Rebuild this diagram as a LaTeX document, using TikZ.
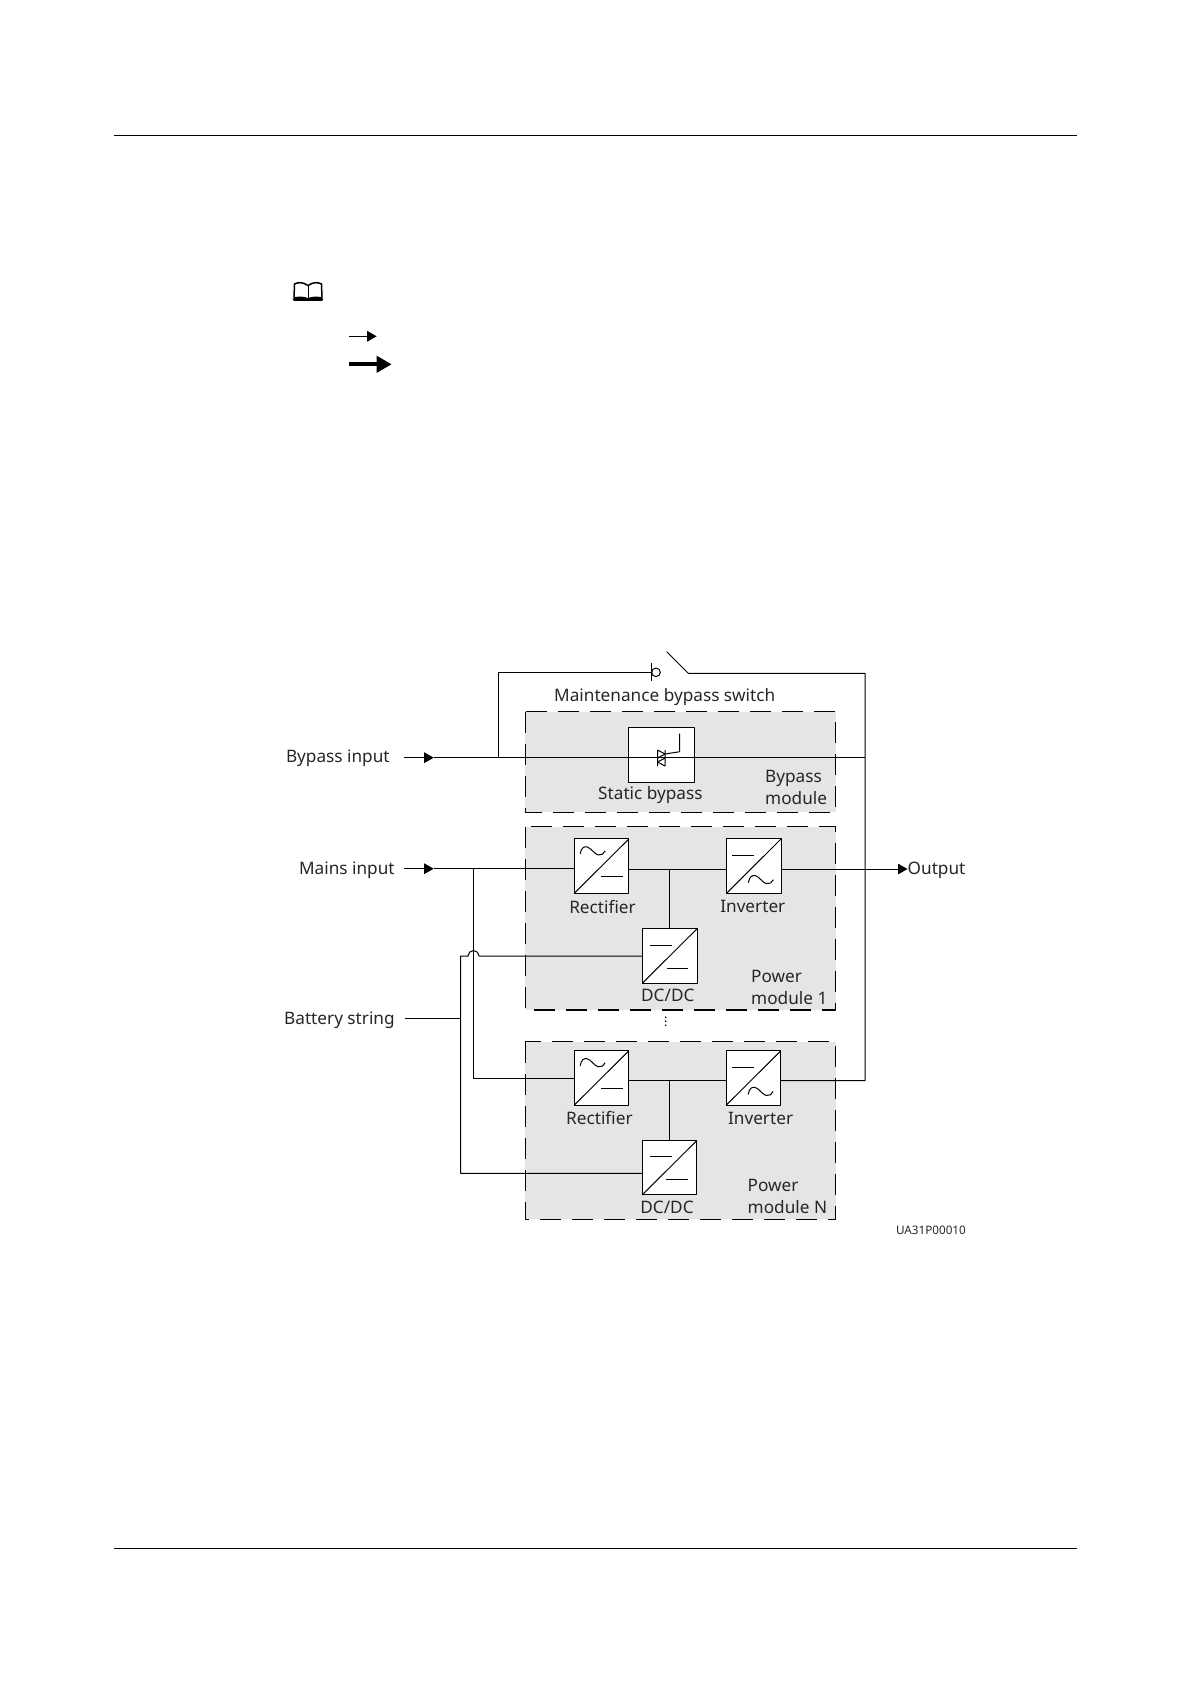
\documentclass[tikz,border=0pt]{standalone}
\usepackage{fontspec}
\setmainfont{Noto Sans}
\usetikzlibrary{arrows.meta}
\tikzset{
	module/.style={fill=black!10, draw, line width=1.1pt, dash pattern=on 21pt off 11pt},
	conv/.style={draw, fill=white, line width=1pt, inner sep=0pt, outer sep=0pt, minimum width=54.7pt, minimum height=54.5pt},
	lbl/.style={inner sep=0pt, text=black!85, align=left, font=\fontsize{17.2}{22.7}\selectfont},
	wire/.style={line width=1pt},
}
\begin{document}
\begin{tikzpicture}[x=1pt, y=-1pt, line join=round, >={Triangle[length=9.5pt,width=10.5pt]}]
	\useasboundingbox (0,0) rectangle (1191,1684);
	\path
	(113.8,135.3) coordinate (ruleTopL)
	(1077,135.3) coordinate (ruleTopR)
	(113.8,1548) coordinate (ruleBotL)
	(1077,1548) coordinate (ruleBotR)
	(349.3,336.3) coordinate (noteThin)
	(376.7,336.3) coordinate (noteThinTip)
	(349.3,364.3) coordinate (noteThick)
	(391.7,364.3) coordinate (noteThickTip)
	(403.6,757.7) coordinate (bypassIn)
	(433.7,757.7) coordinate (bypassTip)
	(498.5,757.7) coordinate (bypassTap)
	(865,757.7) coordinate (bypassEnd)
	(498.5,672.3) coordinate (swLeft)
	(651.7,672.3) coordinate (swTick)
	(651.7,662.7) coordinate (swTickT)
	(651.7,680.7) coordinate (swTickB)
	(666.7,651.7) coordinate (swBlade)
	(688.3,673.3) coordinate (swHinge)
	(865,673.3) coordinate (swRight)
	(403.6,868.7) coordinate (mainsIn)
	(433.7,868.7) coordinate (mainsTip)
	(473.5,868.7) coordinate (mainsTap)
	(473.5,1078) coordinate (mainsLow)
	(460.6,1018.3) coordinate (batTap)
	(404.8,1018.3) coordinate (batIn)
	(460.6,956) coordinate (batTop)
	(460.6,1173.3) coordinate (batLow)
	(907.5,869) coordinate (outTip)
	(865,1080.7) coordinate (outLow);

	\draw[line width=1pt] (ruleTopL)--(ruleTopR) (ruleBotL)--(ruleBotR);

	% note icon and legend arrows
	\draw[line width=1.5pt] (308,285.5) .. controls (303,282) and (298,282) .. (294.5,284)--(294,298) .. controls (300,297) and (304,297) .. (308,299) .. controls (312,297) and (316,297) .. (322,298)--(321.5,284) .. controls (318,282) and (313,282) .. (308,285.5);
	\draw[line width=.8pt] (308,285.5)--(308,299);
	\draw[line width=2.6pt, line cap=round] (294,299.5)--(322,299.5);
	\draw[->, line width=1.2pt] (noteThin)--(noteThinTip);
	\draw[-{Triangle[length=15pt,width=16pt]}, line width=4pt] (noteThick)--(noteThickTip);

	% modules
	\path[module] (525.2,711.7) rectangle (835.5,812.3);
	\path[module] (525.2,826.7) rectangle (835.5,1010);
	\path[module] (525.2,1041.7) rectangle (835.5,1219.3);

	\node[conv, minimum width=66.1pt] (staticBox) at (661.2,755) {};
	\foreach \n/\x/\y in {recA/601.5/866.2,invA/753.7/866.2,dcA/669.7/956,recN/601.5/1078,invN/753.5/1078,dcN/669.5/1167.7}
	\node[conv] (\n) at (\x,\y) {};

	\foreach \n in {recA,invA,dcA,recN,invN,dcN}
	\draw[wire] (\n.south west)--(\n.north east);
	\foreach \n/\a/\b/\y in {recA/27.3/49.3/38,recN/27.3/49.3/38,invA/5.7/27.5/16.3,invN/5.7/27.5/16.3,dcA/7.7/30/16.3,dcA/24.3/46/39.3,dcN/7.7/30/16.3,dcN/24.3/46/39.3}
	\draw[wire, shift={(\n.north west)}] (\a,\y)--(\b,\y);
	\foreach \n/\a/\b in {recA/6/15,recN/6/15,invA/22/43.7,invN/22/43.7}
	\draw[wire, shift={(\n.north west)}, shift={(\a,\b)}] (0,0) .. controls (1,-6) and (4,-8) .. (7,-7) .. controls (11,-6) and (14,0) .. (18,1) .. controls (21,1.5) and (24,0) .. (25,-3);

	% thyristor in the static bypass
	\draw[line width=1pt] (657.7,750)--(657.7,766) (665,750)--(665,766)
	(657.7,750)--(665,754)--(657.7,758) (665,758)--(657.7,762)--(665,766)
	(665,754)--(679.7,751.7)--(679.7,733.7);

	% wires
	\draw[wire] (swLeft)--(swTick);
	\draw[wire] (swTickT)--(swTickB);
	\draw[wire] (656,672.3) circle (4.3pt);
	\draw[wire] (swBlade)--(swHinge)--(swRight)--(outLow)--(invN.east |- outLow);
	\draw[->, wire] (bypassIn)--(bypassTip);
	\draw[wire] (bypassTip)--(bypassEnd);
	\draw[wire] (bypassTap)--(swLeft);
	\draw[->, wire] (mainsIn)--(mainsTip);
	\draw[wire] (mainsTip)--(recA.west |- mainsTip);
	\draw[wire] (mainsTap)--(mainsLow)--(recN.west |- mainsLow);
	\draw[wire] (recA.east |- outTip)--(invA.west |- outTip);
	\draw[->, wire] (invA.east |- outTip)--(outTip);
	\draw[wire] (recN.east |- outLow)--(invN.west |- outLow);
	\draw[wire] (dcA.north |- outTip)--(dcA.north);
	\draw[wire] (dcN.north |- outLow)--(dcN.north);
	\draw[wire] (dcA.west)--(479,956) arc (360:180:5.5)--(batTop)--(batLow)--(dcN.west |- batLow);
	\draw[wire] (batIn)--(batTap);

	% labels
	\foreach \n/\x/\y/\t in {lblBypass/285.8/758.7/Bypass input,lblMains/298.9/870.5/Mains input,lblBattery/284/1020/Battery string,lblSwitch/554/697/Maintenance bypass switch,lblStatic/598/794.7/Static bypass,lblOutput/907.5/870.5/Output}
	\node[lbl, anchor=west] (\n) at (\x,\y) {\t};
	\node[lbl, anchor=west] (lblModBypass) at (765,787.3) {Bypass\\module};
	\node[lbl, anchor=west] (lblModA) at (751,987.4) {Power\\module 1};
	\node[lbl, anchor=west] (lblModN) at (747.5,1196.4) {Power\\module N};
	\foreach \n/\x/\y/\t in {lblRecA/602.5/906.7/Rectifier,lblInvA/752.8/906.7/Inverter,lblDcA/667.8/995.3/{DC/DC},lblRecN/599.4/1118.3/Rectifier,lblInvN/760.6/1118.3/Inverter,lblDcN/667/1207.3/{DC/DC}}
	\node[lbl] (\n) at (\x,\y) {\t};
	\node[lbl, text=black, font=\fontsize{12.5}{14}\selectfont] (lblDots) at (665.8,1019) {$\vdots$};
	\node[lbl, anchor=west, font=\fontsize{11.7}{14}\selectfont] (lblCode) at (895.8,1230.5) {UA31P00010};
\end{tikzpicture}
\end{document}
